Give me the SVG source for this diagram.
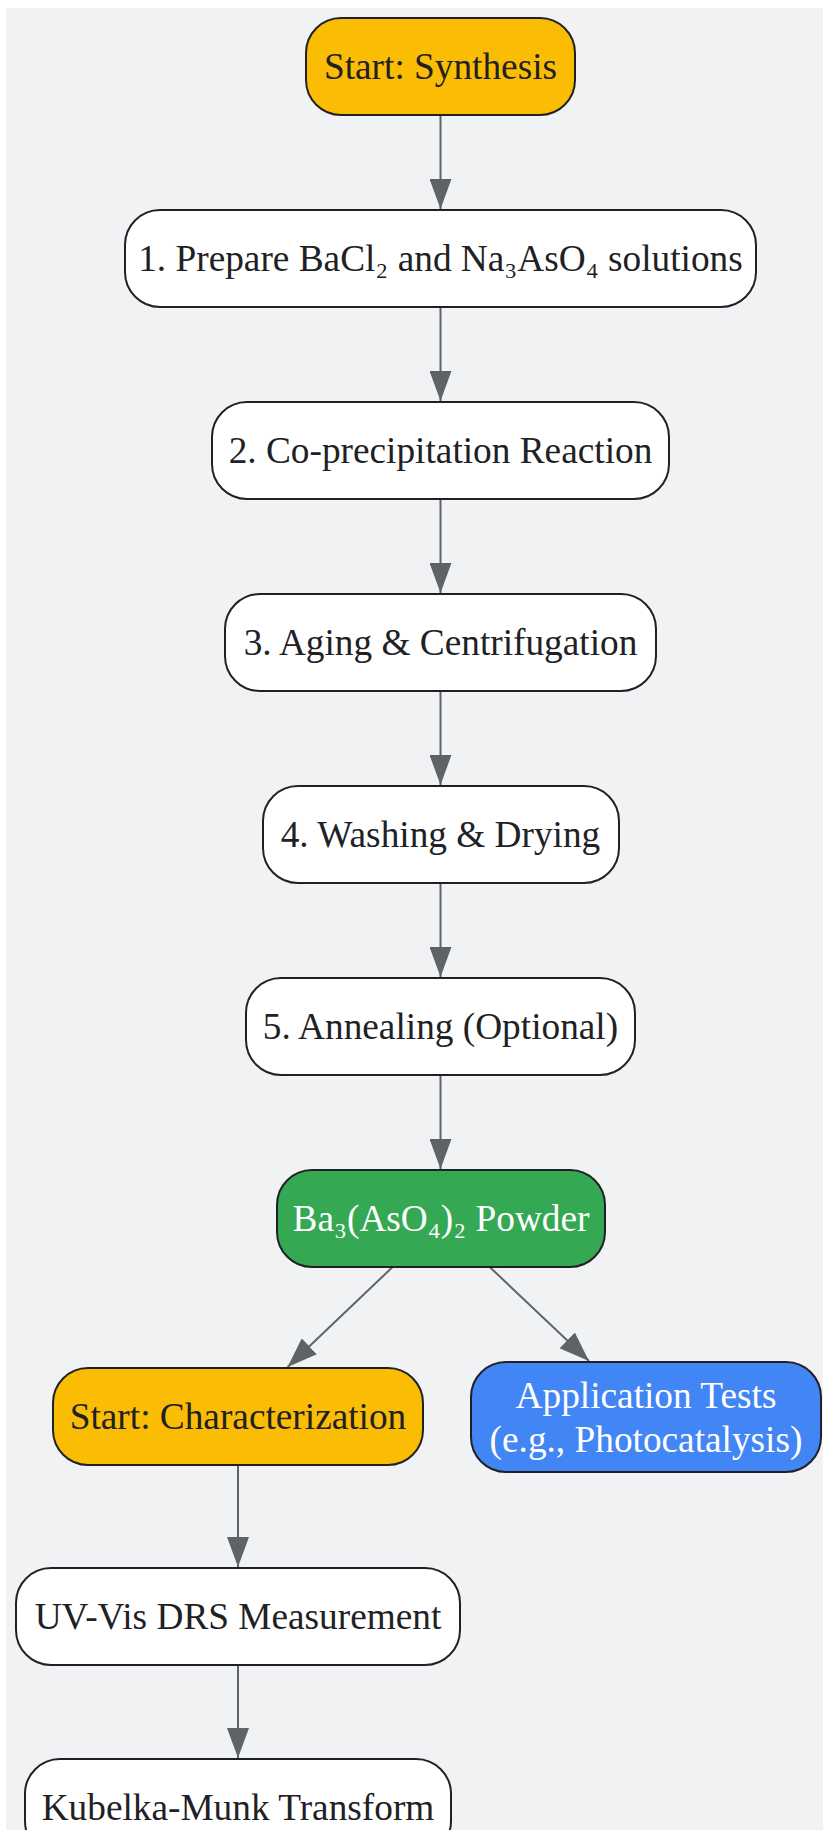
<svg xmlns="http://www.w3.org/2000/svg" width="823" height="1830" viewBox="0 0 823 1830">
<style>
.n rect{stroke:#202124;stroke-width:2}
.w{fill:#ffffff}
.y{fill:#FBBC04}
.g{fill:#34A853}
.b{fill:#4285F4}
text{font-family:"Liberation Serif","DejaVu Serif",serif;font-size:37.3px;text-anchor:middle;fill:#202124}
text.l{fill:#ffffff}
.e line{stroke:#5f6368;stroke-width:2;fill:none}
</style>
<defs>
<marker id="ah" markerUnits="userSpaceOnUse" markerWidth="30" markerHeight="22" viewBox="0 0 30 22" refX="30" refY="11" orient="auto">
<path d="M0,0 L30,11 L0,22 z" fill="#5f6368"/>
</marker>
</defs>
<rect x="6" y="8" width="817" height="1822" fill="#f1f2f4"/>
<g class="e" id="connectors">
<line x1="440.5" y1="115" x2="440.5" y2="209" marker-end="url(#ah)"/>
<line x1="440.5" y1="307" x2="440.5" y2="401" marker-end="url(#ah)"/>
<line x1="440.5" y1="499" x2="440.5" y2="593" marker-end="url(#ah)"/>
<line x1="440.5" y1="691" x2="440.5" y2="785" marker-end="url(#ah)"/>
<line x1="440.5" y1="883" x2="440.5" y2="977" marker-end="url(#ah)"/>
<line x1="440.5" y1="1075" x2="440.5" y2="1169" marker-end="url(#ah)"/>
<line x1="392.6" y1="1267" x2="287.6" y2="1367" marker-end="url(#ah)"/>
<line x1="489.7" y1="1267" x2="589" y2="1361" marker-end="url(#ah)"/>
<line x1="238" y1="1465" x2="238" y2="1567" marker-end="url(#ah)"/>
<line x1="238" y1="1665" x2="238" y2="1758" marker-end="url(#ah)"/>
</g>
<g class="n" id="start_synthesis"><rect class="y" x="306" y="18" width="269" height="97" rx="35"/><text x="440.5" y="79">Start: Synthesis</text></g>
<g class="n" id="prepare"><rect class="w" x="125" y="210" width="631" height="97" rx="35"/><text x="440.5" y="271">1. Prepare BaCl₂ and Na₃AsO₄ solutions</text></g>
<g class="n" id="coprecipitation"><rect class="w" x="212" y="402" width="457" height="97" rx="35"/><text x="440.5" y="463">2. Co-precipitation Reaction</text></g>
<g class="n" id="aging"><rect class="w" x="225" y="594" width="431" height="97" rx="35"/><text x="440.5" y="655">3. Aging &amp; Centrifugation</text></g>
<g class="n" id="washing"><rect class="w" x="263" y="786" width="356" height="97" rx="35"/><text x="440.5" y="847">4. Washing &amp; Drying</text></g>
<g class="n" id="annealing"><rect class="w" x="246" y="978" width="389" height="97" rx="35"/><text x="440.5" y="1039">5. Annealing (Optional)</text></g>
<g class="n" id="powder"><rect class="g" x="277" y="1170" width="328" height="97" rx="35"/><text class="l" x="441" y="1231">Ba₃(AsO₄)₂ Powder</text></g>
<g class="n" id="start_characterization"><rect class="y" x="53" y="1368" width="370" height="97" rx="35"/><text x="238" y="1429">Start: Characterization</text></g>
<g class="n" id="application"><rect class="b" x="471" y="1362" width="350" height="110" rx="35"/><text class="l" x="646" y="1408">Application Tests</text><text class="l" x="646" y="1452">(e.g., Photocatalysis)</text></g>
<g class="n" id="uvvis"><rect class="w" x="16" y="1568" width="444" height="97" rx="35"/><text x="238" y="1629">UV-Vis DRS Measurement</text></g>
<g class="n" id="kubelka"><rect class="w" x="25" y="1759" width="426" height="97" rx="35"/><text x="238" y="1820">Kubelka-Munk Transform</text></g>
</svg>
